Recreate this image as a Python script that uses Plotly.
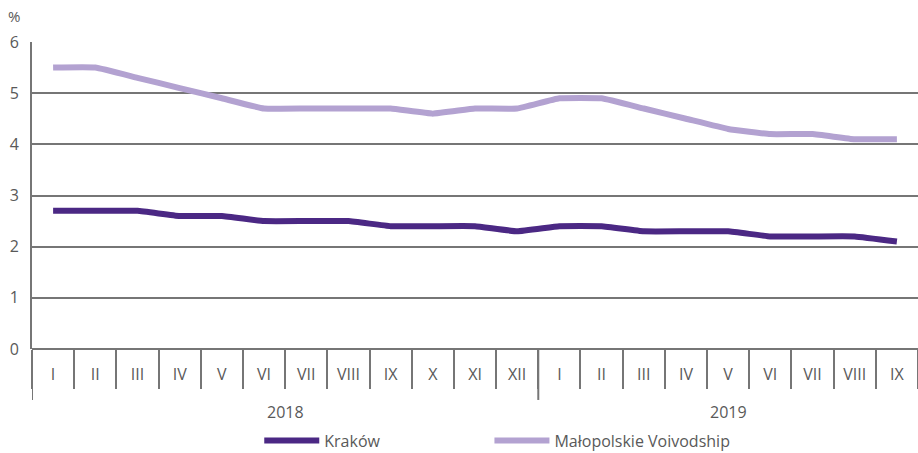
import plotly.graph_objects as go

months_2018 = ["I", "II", "III", "IV", "V", "VI", "VII", "VIII", "IX", "X", "XI", "XII"]
months_2019 = ["I", "II", "III", "IV", "V", "VI", "VII", "VIII", "IX"]

krakow_2018 = [2.7, 2.7, 2.7, 2.6, 2.6, 2.5, 2.5, 2.5, 2.4, 2.4, 2.4, 2.3]
krakow_2019 = [2.4, 2.4, 2.3, 2.3, 2.3, 2.2, 2.2, 2.2, 2.1]

malopolskie_2018 = [5.5, 5.5, 5.3, 5.1, 4.9, 4.7, 4.7, 4.7, 4.7, 4.6, 4.7, 4.7]
malopolskie_2019 = [4.9, 4.9, 4.7, 4.5, 4.3, 4.2, 4.2, 4.1, 4.1]

months = months_2018 + months_2019
pos = list(range(len(months)))
n18 = len(months_2018)
boundaries = [p - 0.5 for p in pos] + [pos[-1] + 0.5]

FONT = "Open Sans, Noto Sans, sans-serif"
GREY = "#595959"
LINE_GREY = "#767676"

fig = go.Figure()
fig.add_trace(go.Scatter(
    x=pos, y=krakow_2018 + krakow_2019,
    name="Kraków", mode="lines", legend="legend",
    line=dict(color="#4b2884", width=6, shape="spline", smoothing=0.3),
))
fig.add_trace(go.Scatter(
    x=pos, y=malopolskie_2018 + malopolskie_2019,
    name="Małopolskie Voivodship", mode="lines", legend="legend2",
    line=dict(color="#b3a2d1", width=6, shape="spline", smoothing=0.3),
))

# year labels under the month ticks
year_mid_2018 = (pos[0] + pos[n18 - 1]) / 2
year_mid_2019 = (pos[n18] + pos[-1]) / 2
annotations = [
    dict(text="2018", x=year_mid_2018, xref="x", y=-0.205, yref="paper",
         yanchor="middle", showarrow=False, font=dict(size=16, color=GREY)),
    dict(text="2019", x=year_mid_2019, xref="x", y=-0.205, yref="paper",
         yanchor="middle", showarrow=False, font=dict(size=16, color=GREY)),
    dict(text="%", xref="paper", yref="paper", x=-0.02, y=1.045,
         xanchor="center", yanchor="bottom", showarrow=False,
         font=dict(size=15, color=GREY)),
]

# long dividers: left edge and between the two years
shapes = [
    dict(type="line", xref="x", yref="paper", x0=b, x1=b, y0=0, y1=-0.166,
         line=dict(color=LINE_GREY, width=2))
    for b in (boundaries[0], boundaries[n18])
]

legend_style = dict(orientation="h", xanchor="left", y=-0.243, yanchor="top",
                    font=dict(size=16, color=GREY), itemwidth=55,
                    bgcolor="rgba(0,0,0,0)")

fig.update_layout(
    width=918, height=453,
    margin=dict(l=32, r=0, t=42, b=104, autoexpand=False),
    plot_bgcolor="white", paper_bgcolor="white",
    font=dict(family=FONT, size=16, color=GREY),
    showlegend=True,
    legend=dict(x=0.2565, **legend_style),
    legend2=dict(x=0.5163, **legend_style),
    xaxis=dict(
        range=[boundaries[0], boundaries[-1]], automargin=False,
        tickvals=pos, ticktext=months, ticks="",
        ticklabelstandoff=14,
        showgrid=False, zeroline=False, showline=False,
        tickfont=dict(size=16, color=GREY),
        minor=dict(tickvals=boundaries, ticks="outside", ticklen=39,
                   tickwidth=2, tickcolor=LINE_GREY, showgrid=False),
    ),
    yaxis=dict(
        range=[0, 6], dtick=1, automargin=False,
        showgrid=True, gridcolor=LINE_GREY, gridwidth=1.5,
        zeroline=True, zerolinecolor=LINE_GREY, zerolinewidth=2,
        showline=True, linecolor=LINE_GREY, linewidth=2,
        ticks="", ticklabelstandoff=8, tickfont=dict(size=16, color=GREY),
    ),
    annotations=annotations,
    shapes=shapes,
)

fig.write_html("out.html", config={"displayModeBar": False},
               post_script="document.body.style.margin='0';")
